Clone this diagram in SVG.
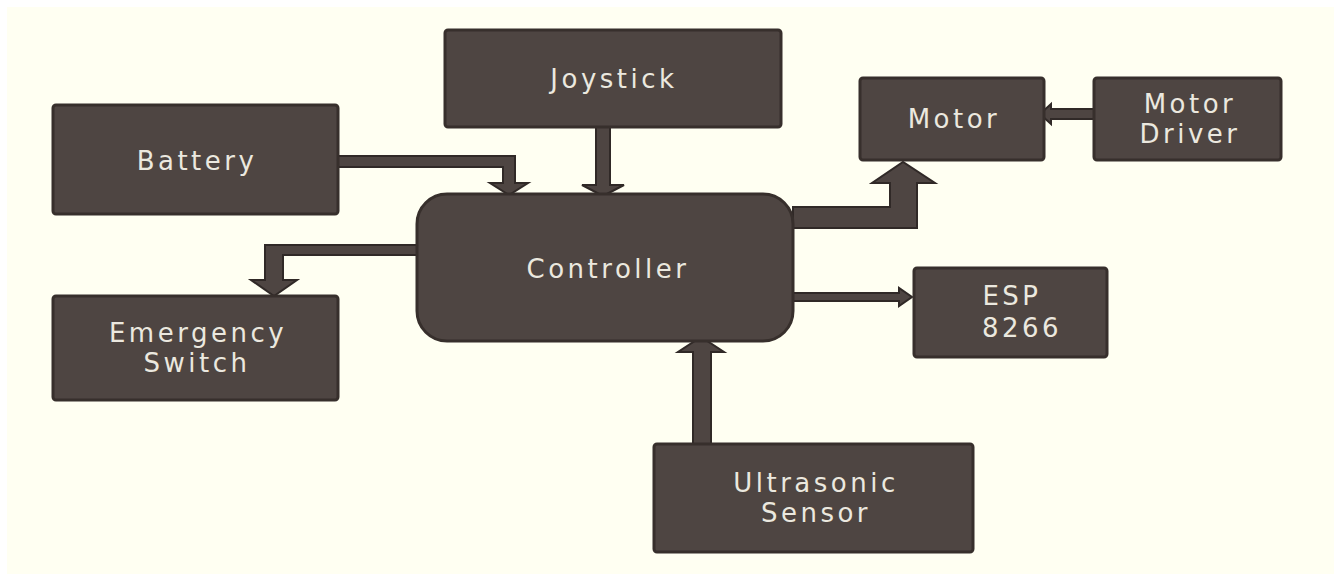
<svg xmlns="http://www.w3.org/2000/svg" width="1334" height="574" viewBox="0 0 1334 574">
<style>
.box{fill:#4e4542;stroke:#372f2c;stroke-width:3}
.arr{fill:#4e4542;stroke:#302927;stroke-width:2;stroke-linejoin:miter}
.t{font-family:"DejaVu Sans",sans-serif;font-size:26px;fill:#ebe8df;text-anchor:middle;letter-spacing:3.5px}
</style>
<rect x="0" y="0" width="1334" height="574" fill="#ffffff"/>
<rect x="7" y="7" width="1327" height="567" fill="#fffff2"/>
<g id="connectors">
<polygon class="arr" points="338,156 515,156 515,183 528,183 509,195 490,183 503,183 503,167 338,167"/>
<polygon class="arr" points="596,127 610,127 610,185 624,185 603,196 582,185 596,185"/>
<polygon class="arr" points="417,245 417,255 283,255 283,280 297,280 274,296 251,280 265,280 265,245"/>
<polygon class="arr" points="793,207 890,207 890,183 872,183 903,162 935,183 917,183 917,228 793,228"/>
<polygon class="arr" points="793,293 899,293 899,288 912,297 899,306 899,301 793,301"/>
<polygon class="arr" points="693,444 693,352 678,352 701,337 724,352 711,352 711,444"/>
<polygon class="arr" points="1094,109 1051,109 1051,104 1040,114 1051,124 1051,119 1094,119"/>
</g>
<g id="battery"><rect class="box" x="53" y="105" width="285" height="109" rx="3"/><text class="t" x="197" y="170">Battery</text></g>
<g id="joystick"><rect class="box" x="445" y="30" width="336" height="97" rx="3"/><text class="t" x="614" y="88">Joystick</text></g>
<g id="motor"><rect class="box" x="860" y="78" width="184" height="82" rx="3"/><text class="t" x="954" y="128">Motor</text></g>
<g id="motor-driver"><rect class="box" x="1094" y="78" width="187" height="82" rx="3"/><text class="t" x="1190" y="113">Motor</text><text class="t" x="1190" y="143">Driver</text></g>
<g id="controller"><rect class="box" x="417" y="194" width="376" height="147" rx="30"/><text class="t" x="608" y="278">Controller</text></g>
<g id="emergency-switch"><rect class="box" x="53" y="296" width="285" height="104" rx="3"/><text class="t" x="198" y="342">Emergency</text><text class="t" x="197" y="372">Switch</text></g>
<g id="esp8266"><rect class="box" x="914" y="268" width="193" height="89" rx="3"/><text class="t" x="1012" y="305">ESP</text><text class="t" x="1022" y="337">8266</text></g>
<g id="ultrasonic-sensor"><rect class="box" x="654" y="444" width="319" height="108" rx="3"/><text class="t" x="816" y="492">Ultrasonic</text><text class="t" x="816" y="522">Sensor</text></g>
</svg>
